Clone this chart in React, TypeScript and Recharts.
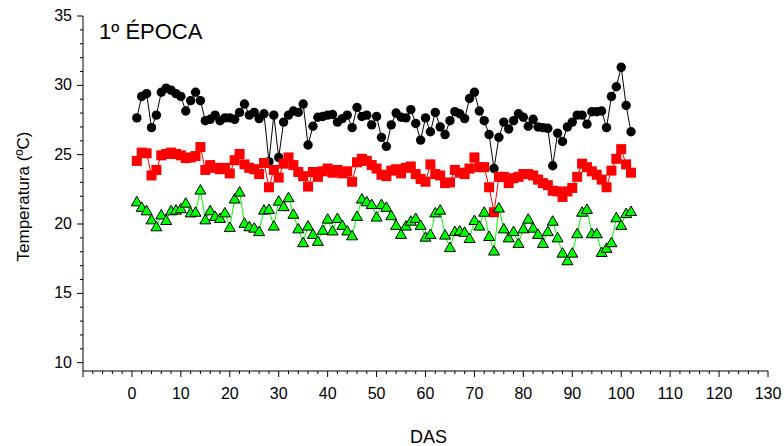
import { LineChart, Line, XAxis, YAxis, Label } from 'recharts'

// daily air temperature, days after sowing 1..102
const FIRST_DAY = 1

const MAX_T = [
  27.65, 29.2, 29.4, 26.95, 27.85, 29.5, 29.8, 29.65, 29.4, 29.2,
  28.15, 28.9, 29.5, 28.9, 27.45, 27.55, 27.85, 27.45, 27.65, 27.65,
  27.55, 28.05, 28.65, 27.85, 28.05, 27.6, 27.95, 24.5, 27.85, 24.8,
  27.35, 27.85, 28.15, 28.05, 28.65, 25.7, 27.05, 27.7, 27.75, 27.85,
  27.9, 27.35, 27.6, 27.85, 26.95, 28.4, 27.75, 27.85, 27.15, 27.75,
  26.25, 25.6, 27.15, 28.0, 27.7, 27.65, 28.25, 27.25, 26.05, 27.65,
  26.65, 28.05, 27.0, 26.45, 27.45, 28.1, 27.95, 27.6, 29.05, 29.5,
  28.15, 27.45, 26.45, 24.0, 26.25, 27.35, 26.85, 27.45, 27.95, 27.7,
  27.05, 27.55, 27.0, 26.95, 26.9, 24.2, 26.55, 25.95, 27.0, 27.35,
  27.85, 27.85, 27.2, 28.1, 28.1, 28.15, 26.95, 29.2, 29.9, 31.3,
  28.55, 26.65,
]

const MEAN_T = [
  24.55, 25.15, 25.1, 23.5, 23.9, 24.95, 25.05, 25.15, 25.05, 24.95,
  24.75, 24.8, 24.9, 25.55, 23.9, 24.25, 24.05, 23.95, 24.05, 23.65,
  24.6, 25.05, 24.3, 24.05, 23.95, 23.6, 24.4, 22.65, 23.9, 23.35,
  24.35, 24.8, 24.25, 23.75, 23.45, 22.7, 23.75, 23.4, 23.8, 24.0,
  23.7, 23.9, 23.65, 23.8, 23.05, 24.45, 24.7, 24.55, 24.25, 24.0,
  23.55, 23.45, 23.85, 23.95, 23.65, 24.05, 24.15, 23.6, 23.25, 23.05,
  24.3, 23.6, 23.5, 22.95, 23.0, 23.9, 23.7, 23.6, 24.0, 24.8,
  24.1, 24.1, 22.65, 20.85, 23.4, 23.4, 22.95, 23.3, 23.4, 23.6,
  23.6, 23.5, 23.2, 22.95, 22.8, 22.4, 22.35, 21.95, 22.35, 22.6,
  23.4, 24.35, 24.1, 23.8, 23.55, 23.2, 22.65, 23.85, 24.7, 25.4,
  24.3, 23.7,
]

const MIN_T = [
  21.6, 21.2, 20.95, 20.3, 19.8, 20.65, 20.25, 20.95, 21.0, 21.1,
  21.5, 20.8, 20.85, 22.45, 20.3, 20.95, 20.55, 20.4, 20.8, 19.75,
  21.8, 22.3, 20.05, 19.8, 19.7, 19.45, 21.0, 21.05, 19.85, 21.65,
  21.25, 21.9, 20.7, 19.65, 18.65, 19.85, 19.25, 18.75, 19.55, 20.35,
  19.5, 20.4, 19.9, 19.5, 19.15, 20.55, 21.8, 21.6, 21.4, 20.5,
  21.4, 21.2, 20.6, 19.9, 19.25, 19.85, 20.2, 20.4, 19.9, 19.05,
  19.25, 20.8, 21.0, 19.2, 18.3, 19.45, 19.5, 19.4, 18.95, 20.25,
  19.85, 20.85, 19.1, 18.05, 21.15, 19.65, 19.0, 19.45, 18.6, 19.65,
  20.35, 19.7, 19.25, 18.6, 19.45, 20.2, 19.0, 17.9, 17.35, 17.9,
  19.3, 20.85, 21.05, 19.3, 19.3, 17.95, 18.25, 18.65, 20.45, 19.9,
  20.75, 20.9,
]

const X_LABELS = [0, 10, 20, 30, 40, 50, 60, 70, 80, 90, 100, 110, 120, 130]
const Y_LABELS = [10, 15, 20, 25, 30, 35]
const TITLE = '1º ÉPOCA'

const data = MAX_T.map((v, i) => ({
  day: FIRST_DAY + i,
  max: v,
  mean: MEAN_T[i],
  min: MIN_T[i],
}))

const xTicks: number[] = []
for (let t = -10; t <= 130; t += 2) xTicks.push(t)
const yTicks: number[] = []
for (let t = 10; t <= 35; t += 1) yTicks.push(t)

const FONT = 'Liberation Sans, Arial, sans-serif'

function XTick({ x, y, payload }: any) {
  const v = payload.value
  const major = v % 10 === 0
  return (
    <g>
      <line x1={x} x2={x} y1={y} y2={y + (major ? 6 : 3)} stroke="#000" />
      {major && X_LABELS.includes(v) && (
        <text x={x} y={y + 28} textAnchor="middle" fontSize={16} fill="#000" fontFamily={FONT}>
          {v}
        </text>
      )}
    </g>
  )
}

function YTick({ x, y, payload }: any) {
  const v = payload.value
  const major = Y_LABELS.includes(v)
  return (
    <g>
      <line x1={x - (major ? 6 : 3)} x2={x} y1={y} y2={y} stroke="#000" />
      {major && (
        <text x={x - 11} y={y + 5} textAnchor="end" fontSize={16} fill="#000" fontFamily={FONT}>
          {v}
        </text>
      )}
    </g>
  )
}

const circleDot = (p: any) => (
  <circle key={`c${p.index}`} cx={p.cx} cy={p.cy} r={4.7} fill="#000" />
)
const squareDot = (p: any) => (
  <rect key={`s${p.index}`} x={p.cx - 5} y={p.cy - 5} width={10} height={10} fill="#ff0000" />
)
const triDot = (p: any) => (
  <polygon
    key={`t${p.index}`}
    points={`${p.cx},${p.cy - 5.5} ${p.cx - 5.5},${p.cy + 4} ${p.cx + 5.5},${p.cy + 4}`}
    fill="#00ff00"
    stroke="#000"
    strokeWidth={1}
  />
)

export default function App() {
  return (
    <div style={{ position: 'relative', width: 784, height: 446, background: '#fff', fontFamily: FONT }}>
      <style>{'body{margin:0}'}</style>
      <LineChart width={784} height={446} data={data} margin={{ top: 16, right: 16, bottom: 0, left: 0 }}>
        <XAxis
          type="number"
          dataKey="day"
          domain={[-10, 130]}
          ticks={xTicks}
          interval={0}
          tickSize={0}
          tickMargin={0}
          tick={<XTick />}
          tickLine={false}
          height={75}
          stroke="#000"
        >
          <Label
            content={({ viewBox }: any) => (
              <text
                x={viewBox.x + viewBox.width / 2 + 3}
                y={viewBox.y + 72}
                textAnchor="middle"
                fontSize={18}
                fill="#000"
                fontFamily={FONT}
              >
                DAS
              </text>
            )}
          />
        </XAxis>
        <YAxis
          type="number"
          domain={[9.4, 35]}
          ticks={yTicks}
          interval={0}
          tickSize={0}
          tickMargin={0}
          tick={<YTick />}
          tickLine={false}
          width={83}
          stroke="#000"
        >
          <Label
            content={({ viewBox }: any) => {
              const cx = viewBox.x + 29
              const cy = viewBox.y + viewBox.height / 2 + 3
              return (
                <text
                  x={cx}
                  y={cy}
                  transform={`rotate(-90 ${cx} ${cy})`}
                  textAnchor="middle"
                  fontSize={17}
                  fill="#000"
                  fontFamily={FONT}
                >
                  Temperatura (ºC)
                </text>
              )
            }}
          />
        </YAxis>
        <Line dataKey="max" stroke="#000" strokeWidth={1} dot={circleDot} isAnimationActive={false} />
        <Line dataKey="mean" stroke="#ff0000" strokeWidth={1} dot={squareDot} isAnimationActive={false} />
        <Line dataKey="min" stroke="#00ff00" strokeWidth={1} dot={triDot} isAnimationActive={false} />
      </LineChart>
      <div style={{ position: 'absolute', left: 99, top: 21, fontSize: 22, lineHeight: 1, color: '#000' }}>
        {TITLE}
      </div>
    </div>
  )
}
